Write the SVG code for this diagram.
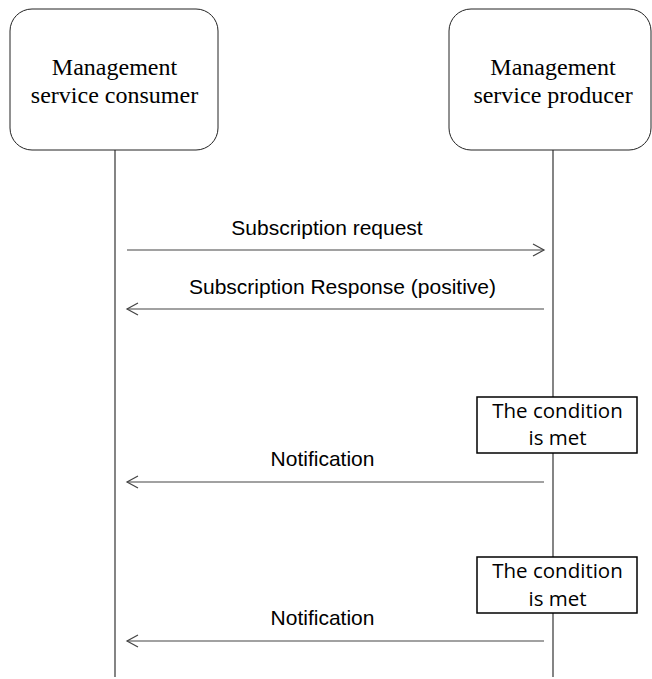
<svg xmlns="http://www.w3.org/2000/svg" width="652" height="679" viewBox="0 0 652 679">
<style>
.actor{fill:#fff;stroke:#222;stroke-width:1}
.atxt{font-family:"Liberation Serif",serif;font-size:24px;fill:#000;text-anchor:middle}
.life{stroke:#333;stroke-width:1.2;fill:none}
.msg{stroke:#444;stroke-width:1.2;fill:none}
.mtxt{font-family:"Liberation Sans",Arial,sans-serif;font-size:21px;fill:#000;text-anchor:middle}
.cond{fill:#fff;stroke:#000;stroke-width:1.5}
.ctxt{font-family:"Open Sans","Noto Sans",sans-serif;font-size:20.5px;fill:#000;text-anchor:middle}
</style>
<defs>
<marker id="open" markerWidth="14" markerHeight="14" refX="12" refY="7" orient="auto" markerUnits="userSpaceOnUse">
<path d="M1,1 L12,7 L1,13" fill="none" stroke="#444" stroke-width="1.2"/>
</marker>
</defs>
<g id="connectors">
<line class="life" x1="115" y1="150" x2="115" y2="677"/>
<line class="life" x1="553" y1="150" x2="553" y2="677"/>
<line class="msg" x1="127" y1="250" x2="544" y2="250" marker-end="url(#open)"/>
<line class="msg" x1="544" y1="309" x2="127" y2="309" marker-end="url(#open)"/>
<line class="msg" x1="544" y1="482" x2="127" y2="482" marker-end="url(#open)"/>
<line class="msg" x1="544" y1="641" x2="127" y2="641" marker-end="url(#open)"/>
<text class="mtxt" x="327" y="235">Subscription request</text>
<text class="mtxt" x="342.5" y="294">Subscription Response (positive)</text>
<text class="mtxt" x="322.5" y="466">Notification</text>
<text class="mtxt" x="322.5" y="625">Notification</text>
</g>
<g id="consumer">
<rect class="actor" x="10" y="9" width="208" height="141" rx="22" ry="22"/>
<text class="atxt" x="114.5" y="75">Management</text>
<text class="atxt" x="114.5" y="103">service consumer</text>
</g>
<g id="producer">
<rect class="actor" x="449" y="9" width="202" height="141" rx="22" ry="22"/>
<text class="atxt" x="553" y="75">Management</text>
<text class="atxt" x="553" y="103">service producer</text>
</g>
<g id="cond1">
<rect class="cond" x="477" y="397" width="160" height="56"/>
<text class="ctxt" x="557.5" y="418">The condition</text>
<text class="ctxt" x="557.5" y="445">is met</text>
</g>
<g id="cond2">
<rect class="cond" x="477" y="557" width="160" height="56"/>
<text class="ctxt" x="557.5" y="578">The condition</text>
<text class="ctxt" x="557.5" y="606">is met</text>
</g>
</svg>
